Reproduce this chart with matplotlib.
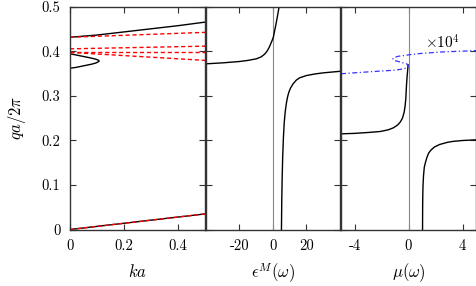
import matplotlib
matplotlib.use("Agg")
import matplotlib.pyplot as plt

plt.rcParams['mathtext.fontset'] = 'cm'
plt.rcParams['font.family'] = ['DejaVu Serif']

# ---- panel 1: band structure q vs ka ----
ka_upper = [0.0, 0.1, 0.2, 0.3, 0.4, 0.5]
q_upper = [0.432, 0.437, 0.444, 0.451, 0.458, 0.466]

ka_lower = [0.0, 0.5]
q_lower = [0.0, 0.035]

ka_loop = [0.0, 0.02, 0.04, 0.06, 0.08, 0.095, 0.104, 0.108, 0.107, 0.104, 0.095, 0.08, 0.06, 0.04, 0.02, 0.0]
q_loop = [0.3625, 0.3640, 0.3665, 0.3690, 0.3715, 0.3740, 0.3765, 0.3785, 0.3795, 0.3808, 0.3828, 0.3850, 0.3876, 0.3900, 0.3925, 0.3948]

ka_light = [0.0, 0.5]
q_light_1 = [0.432, 0.443]
q_light_2 = [0.406, 0.412]
q_light_3 = [0.398, 0.398]
q_light_4 = [0.398, 0.380]
q_light_0 = [0.0, 0.035]

# ---- panel 2: epsilon^M(omega) ----
eps_left = [-40, -30, -20, -15, -10, -7, -5, -3.5, -2.3, -1.4, -0.5, 0.2, 0.9, 1.6, 2.6, 3.6]
q_eps_left = [0.3723, 0.3745, 0.3775, 0.380, 0.3835, 0.388, 0.394, 0.401, 0.409, 0.417, 0.425, 0.432, 0.445, 0.458, 0.478, 0.4996]
eps_right = [40, 30, 25, 20, 16, 14, 12, 10.5, 9.5, 8.7, 8.0, 7.3, 6.7, 6.2, 5.8, 5.5, 5.25, 5.05]
q_eps_right = [0.3555, 0.352, 0.3495, 0.346, 0.341, 0.336, 0.3275, 0.318, 0.309, 0.298, 0.284, 0.265, 0.240, 0.205, 0.165, 0.120, 0.070, 0.0]

# ---- panel 3: mu(omega) ----
mu_left = [-5, -4, -3, -2.1, -1.5, -1.12, -0.8, -0.62, -0.45, -0.32, -0.25, -0.2, -0.15, -0.1, -0.05, -0.03]
q_mu_left = [0.215, 0.216, 0.218, 0.2202, 0.224, 0.2285, 0.235, 0.241, 0.250, 0.2636, 0.278, 0.2936, 0.3236, 0.345, 0.362, 0.37]
mu_right = [5, 4, 3.3, 2.9, 2.3, 1.9, 1.65, 1.5, 1.37, 1.25, 1.17, 1.11, 1.07, 1.05, 1.04]
q_mu_right = [0.2015, 0.200, 0.198, 0.196, 0.191, 0.185, 0.178, 0.172, 0.1625, 0.150, 0.140, 0.120, 0.095, 0.060, 0.0]
mu_im = [-5.0, -2.6, -1.0, -0.37, -0.05, 0.0, -0.12, -0.62, -1.0, -1.15, -1.12, -0.75, -0.3, 0.0, 0.87, 2.5, 5.0]
q_mu_im = [0.350, 0.355, 0.358, 0.361, 0.364, 0.367, 0.372, 0.3765, 0.3795, 0.3825, 0.386, 0.3893, 0.391, 0.3925, 0.3955, 0.399, 0.402]

yticks = [0, 0.1, 0.2, 0.3, 0.4, 0.5]
ytick_labels = ['0', '0.1', '0.2', '0.3', '0.4', '0.5']
x1_ticks = [0, 0.2, 0.4]
x1_labels = ['0', '0.2', '0.4']
x2_ticks = [-20, 0, 20]
x2_labels = ['-20', '0', '20']
x3_ticks = [-4, 0, 4]
x3_labels = ['-4', '0', '4']

fig = plt.figure(figsize=(4.77, 2.86), dpi=100)
bottom = 1 - 229.5 / 286
height = 222.5 / 286
ax1 = fig.add_axes([70 / 477, bottom, 135 / 477, height])
ax2 = fig.add_axes([206 / 477, bottom, 134 / 477, height])
ax3 = fig.add_axes([341 / 477, bottom, 135 / 477, height])

tickfont = dict(family='cmr10', size=10.5)

for ax in (ax1, ax2, ax3):
    ax.set_ylim(0, 0.5)
    ax.set_yticks(yticks)
    for s in ax.spines.values():
        s.set_color('#333333')
        s.set_linewidth(1.0)
    ax.tick_params(direction='in', length=4, width=0.8, color='#333333',
                   top=True, right=True, pad=7)

ax1.set_yticklabels(ytick_labels, fontdict=tickfont)
ax2.set_yticklabels([])
ax3.set_yticklabels([])

# panel 1
ax1.plot(ka_lower, q_lower, color='black', lw=1.0)
ax1.plot(ka_upper, q_upper, color='black', lw=1.0)
ax1.plot(ka_loop, q_loop, color='black', lw=1.0)
for ql in (q_light_0, q_light_1, q_light_2, q_light_3, q_light_4):
    ax1.plot(ka_light, ql, color='red', lw=1.0, ls=(0, (3, 2)))
ax1.set_xlim(0, 0.5)
ax1.set_xticks(x1_ticks)
ax1.set_xticklabels(x1_labels, fontdict=tickfont)
ax1.set_xlabel(r'$ka$', fontsize=12, labelpad=8)
ax1.set_ylabel(r'$qa/2\pi$', fontsize=12, labelpad=10)

# panel 2
ax2.axvline(0, color='#888888', lw=0.8)
ax2.plot(eps_left, q_eps_left, color='black', lw=1.0)
ax2.plot(eps_right, q_eps_right, color='black', lw=1.0)
ax2.set_xlim(-40, 40)
ax2.set_xticks(x2_ticks)
ax2.set_xticklabels(x2_labels, fontdict=tickfont)
ax2.set_xlabel(r'$\epsilon^M(\omega)$', fontsize=12, labelpad=6)

# panel 3
ax3.axvline(0, color='#888888', lw=0.8)
ax3.plot(mu_left, q_mu_left, color='black', lw=1.0)
ax3.plot(mu_right, q_mu_right, color='black', lw=1.0)
ax3.plot(mu_im, q_mu_im, color='#3333ff', lw=0.9, ls=(0, (4, 2, 1, 2)))
ax3.text(1.25, 0.407, r'$\times 10^4$', fontsize=11, ha='left', va='baseline')
ax3.set_xlim(-5, 5)
ax3.set_xticks(x3_ticks)
ax3.set_xticklabels(x3_labels, fontdict=tickfont)
ax3.set_xlabel(r'$\mu(\omega)$', fontsize=12, labelpad=6)

fig.savefig('out.png', dpi=100)
